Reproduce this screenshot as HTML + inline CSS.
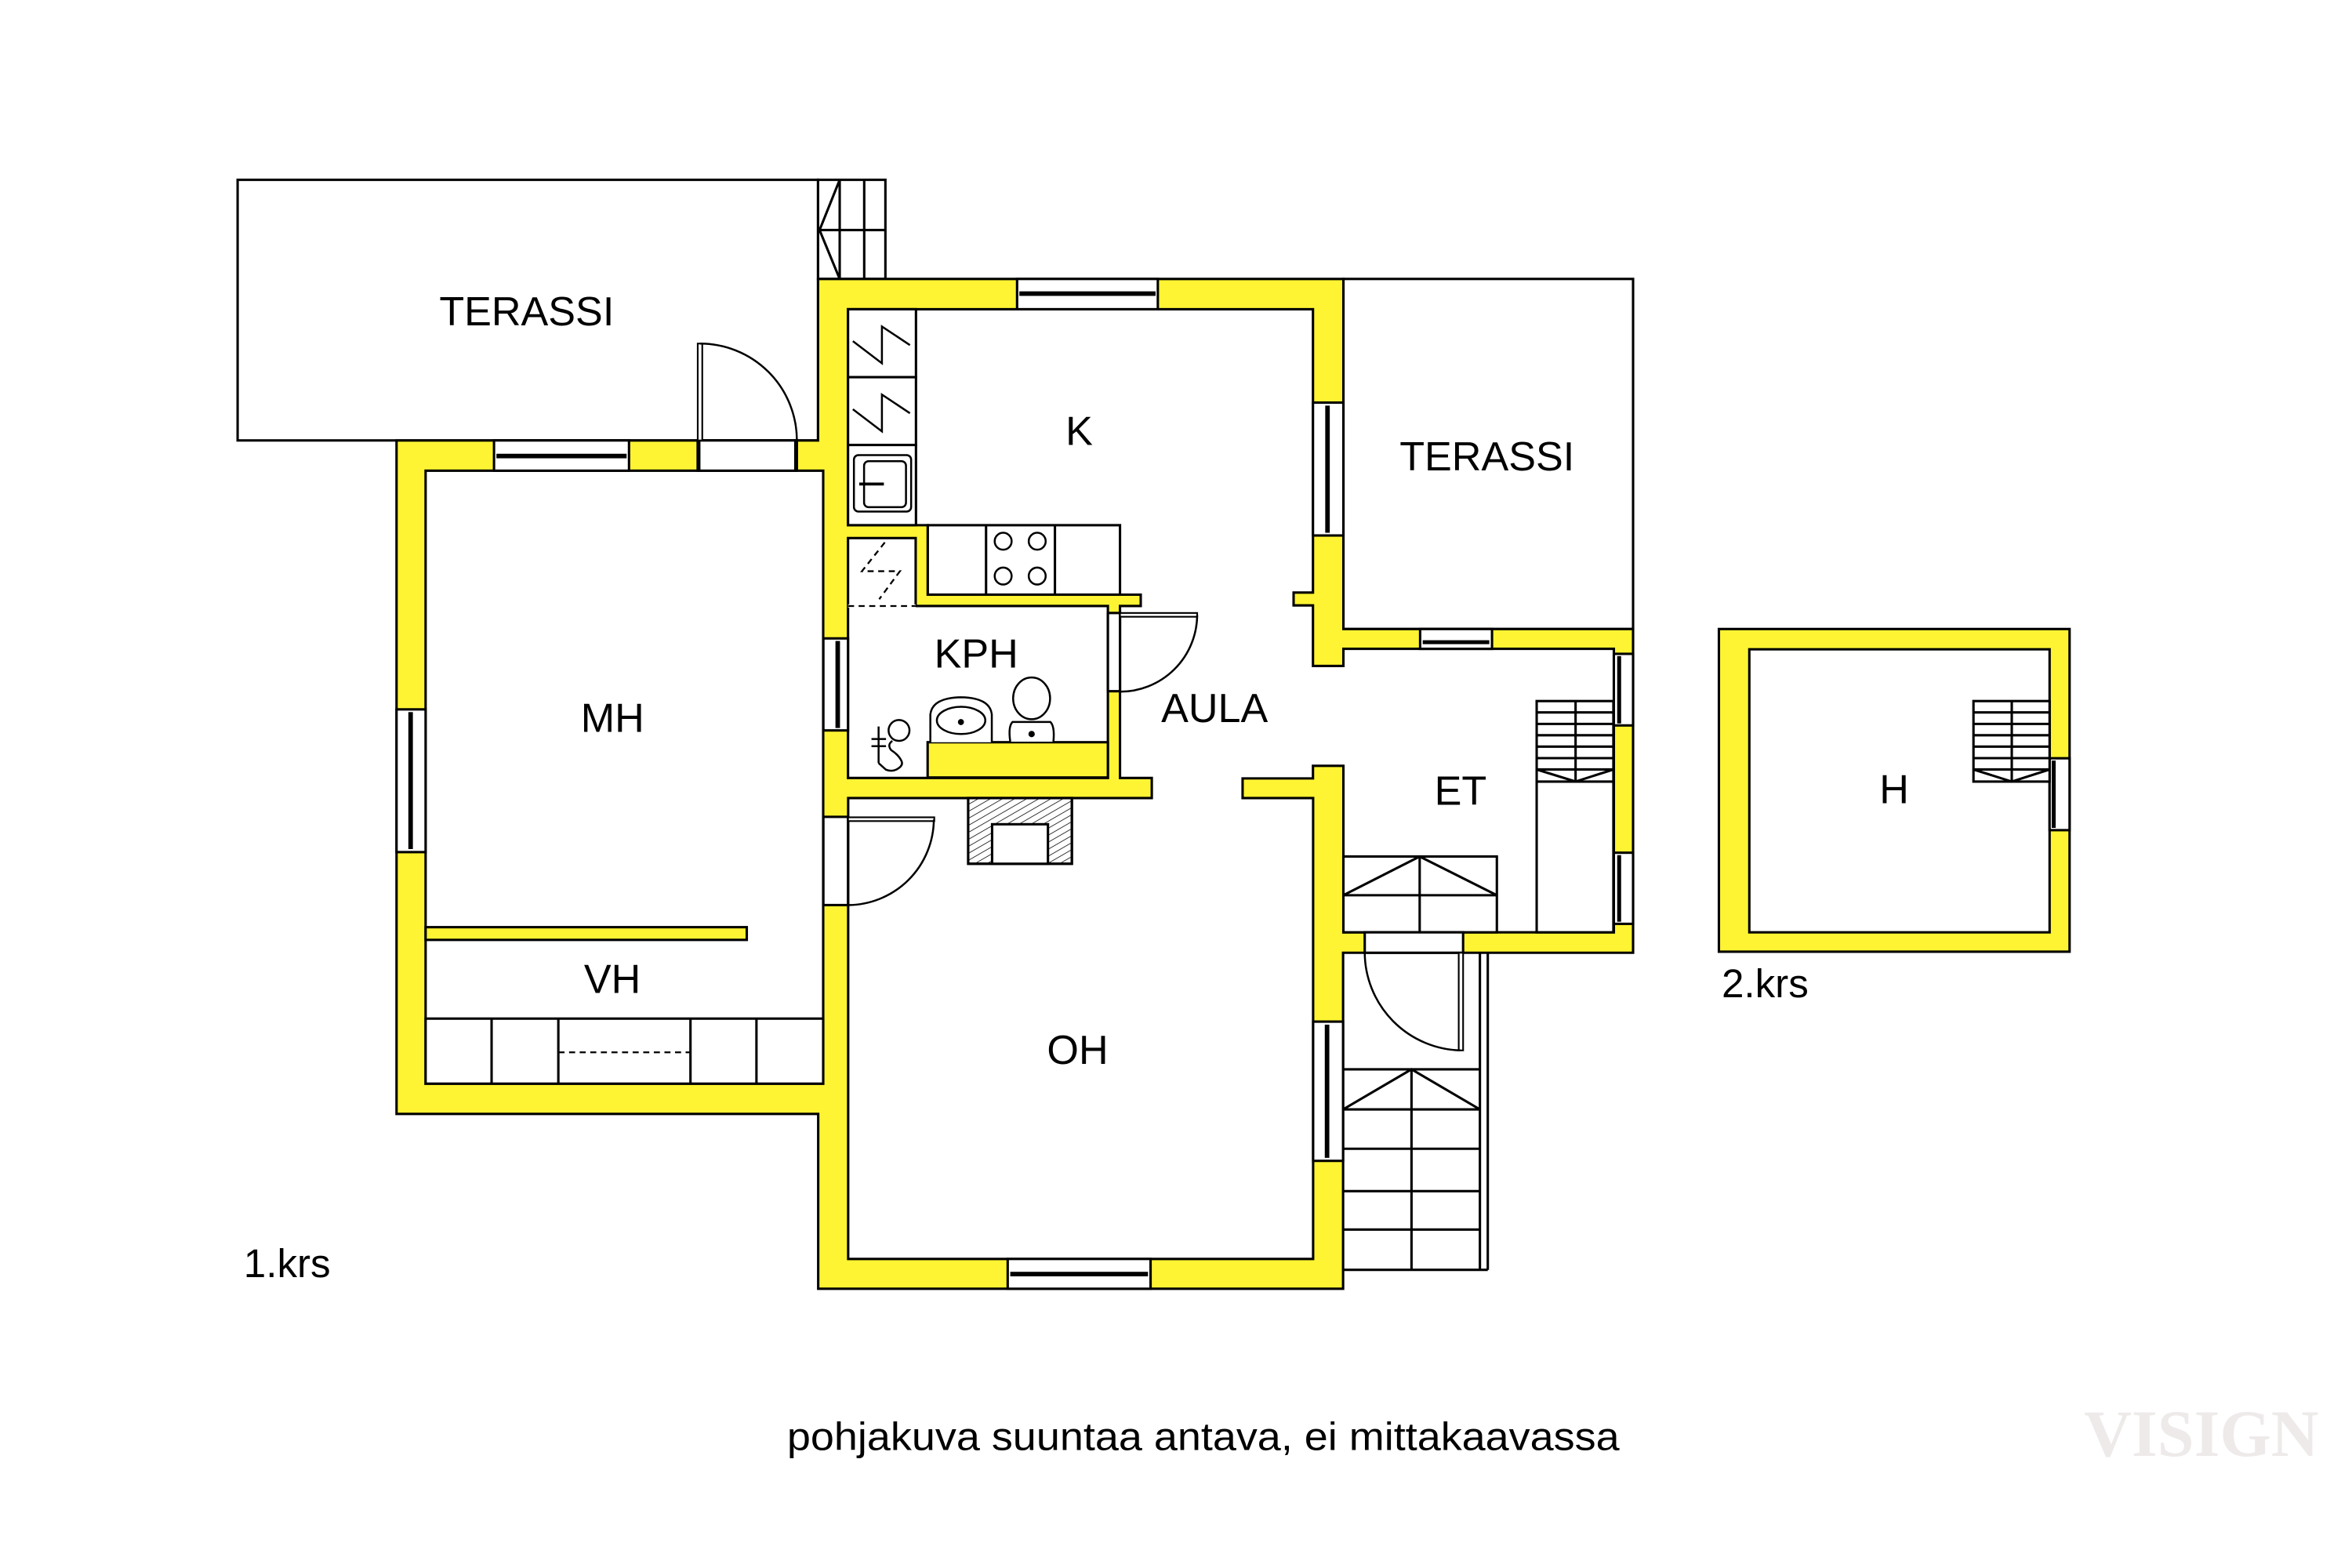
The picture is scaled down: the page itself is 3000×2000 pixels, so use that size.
<!DOCTYPE html>
<html><head><meta charset="utf-8"><style>
html,body{margin:0;padding:0;background:#fff}
svg{display:block}
text{font-family:"Liberation Sans",Arial,sans-serif;fill:#000}
</style></head><body>
<svg width="3000" height="2000" viewBox="0 0 1554 1036" preserveAspectRatio="none" xmlns="http://www.w3.org/2000/svg">
<g stroke="#000" stroke-width="1.6" fill="none" stroke-linejoin="miter">
<!-- left terrace -->
<rect x="157" y="118.8" width="383.5" height="172.2" fill="#fff"/>
<!-- top stair -->
<rect x="540.5" y="118.8" width="44.5" height="65.5" fill="#fff"/>
<line x1="554.8" y1="118.8" x2="554.8" y2="184.3"/>
<line x1="571" y1="118.8" x2="571" y2="184.3"/>
<line x1="540.5" y1="152" x2="585" y2="152"/>
<polyline points="554.8,118.8 541.5,152 554.8,184.3"/>
<!-- right terrace -->
<rect x="887.6" y="184.3" width="191.4" height="231.3" fill="#fff"/>
<!-- building outer -->
<polygon fill="#fff433" points="540.5,184.3 887.6,184.3 887.6,415.6 1079,415.6 1079,629.5 887.4,629.5 887.4,851.5 540.6,851.5 540.6,736 262,736 262,291 540.5,291"/>
<!-- MH+VH -->
<rect x="281.2" y="311" width="262.7" height="405" fill="#fff"/>
<rect x="281.2" y="612.6" width="212.2" height="8.4" fill="#fff433"/>
<rect x="281.2" y="673" width="262.7" height="43" fill="#fff"/>
<line x1="324.8" y1="673" x2="324.8" y2="716"/>
<line x1="368.9" y1="673" x2="368.9" y2="716"/>
<line x1="456.2" y1="673" x2="456.2" y2="716"/>
<line x1="499.8" y1="673" x2="499.8" y2="716"/>
<line x1="369" y1="695.3" x2="456" y2="695.3" stroke-dasharray="4,3" stroke-width="1.2"/>
<!-- K/AULA/OH/ET -->
<polygon fill="#fff" points="560.3,204.3 867.5,204.3 867.5,391.5 854.7,391.5 854.7,400 867.5,400 867.5,440 887.6,440 887.6,428.7 1066.3,428.7 1066.3,616 887.6,616 887.6,506 867.5,506 867.5,514.3 821,514.3 821,527.3 867.6,527.3 867.6,831.8 560.4,831.8 560.4,527.3 761,527.3 761,514 740,514 740,400.4 753.7,400.4 753.7,392.9 613,392.9 613,347 560.3,347"/>
<!-- KPH -->
<polygon fill="#fff" points="560.3,355.5 605,355.5 605,400.4 732,400.4 732,514 560.3,514"/>
<line x1="560.3" y1="400.4" x2="605" y2="400.4" stroke="#fff" stroke-width="2"/>
<line x1="560.3" y1="400.4" x2="605" y2="400.4" stroke-dasharray="4,3" stroke-width="1.2"/>
<polyline points="584.6,358.4 569.5,377.4 594.6,377.4 580.9,395.9" stroke-dasharray="4,3" stroke-width="1.2"/>
<rect x="612.9" y="490.4" width="119.1" height="23.3" fill="#fff433"/>
<!-- kitchen cabinets -->
<rect x="560.3" y="204.3" width="44.9" height="44.9" fill="#fff"/>
<rect x="560.3" y="249.2" width="44.9" height="44.8" fill="#fff"/>
<rect x="560.3" y="294" width="44.9" height="53" fill="#fff"/>
<polyline points="563.5,225.4 582.7,240 582.7,215.7 601.2,228" stroke-width="1.3"/>
<polyline points="563.5,270.4 582.7,285 582.7,260.7 601.2,273" stroke-width="1.3"/>
<rect x="564.2" y="300.7" width="37.8" height="37.3" rx="3" stroke-width="1.3"/>
<rect x="570.9" y="304.7" width="27.7" height="30.4" rx="3" stroke-width="1.3"/>
<line x1="567.7" y1="319.8" x2="584" y2="319.8" stroke-width="2"/>
<rect x="613" y="347" width="127" height="45.9" fill="#fff"/>
<line x1="651.5" y1="347" x2="651.5" y2="392.9"/>
<line x1="697" y1="347" x2="697" y2="392.9"/>
<circle cx="662.8" cy="357.6" r="5.6" stroke-width="1.3"/>
<circle cx="685.3" cy="357.6" r="5.6" stroke-width="1.3"/>
<circle cx="662.8" cy="380.6" r="5.6" stroke-width="1.3"/>
<circle cx="685.3" cy="380.6" r="5.6" stroke-width="1.3"/>
<!-- bathroom fixtures -->
<circle cx="594" cy="482.6" r="6.9" stroke-width="1.3"/>
<line x1="580.5" y1="480" x2="580.5" y2="504.2" stroke-width="1.3"/>
<line x1="575.8" y1="488.3" x2="585.4" y2="488.3" stroke-width="1.3"/>
<line x1="575.8" y1="493" x2="585.4" y2="493" stroke-width="1.3"/>
<path d="M580.5,504.2 L585.3,508.5 Q589,510 592.2,508.5 Q597,506 595.7,503 Q594,499 588.8,495.6 Q586,492 589.6,489.5" stroke-width="1.3"/>
<path d="M614.7,490.4 L614.7,472 Q616,461 635,460.7 Q654,461 655.3,472 L655.3,490.4" fill="#fff" stroke-width="1.3"/>
<ellipse cx="635" cy="476" rx="16" ry="9" stroke-width="1.3"/>
<circle cx="634.9" cy="477.1" r="1.2" fill="#000"/>
<ellipse cx="681.6" cy="461.4" rx="12.2" ry="13.8" fill="#fff" stroke-width="1.3"/>
<path d="M667.5,490 Q666,480 669,477 L694,477 Q697,480 696,490" fill="#fff" stroke-width="1.3"/>
<circle cx="681.6" cy="485" r="1.3" fill="#000"/>
<!-- fireplace -->
<defs><pattern id="h" width="4" height="4" patternUnits="userSpaceOnUse" patternTransform="rotate(60)"><line x1="0" y1="0" x2="0" y2="4" stroke="#000" stroke-width="0.8"/></pattern></defs>
<rect x="639.7" y="527.3" width="68.5" height="43.4" fill="#fff"/>
<rect x="639.7" y="527.3" width="68.5" height="43.4" fill="url(#h)"/>
<rect x="655.5" y="544.6" width="36.9" height="26.1" fill="#fff"/>
<!-- ET stairs -->
<rect x="887.6" y="565.9" width="101.4" height="50.1" fill="#fff"/>
<line x1="887.6" y1="591.5" x2="989" y2="591.5"/>
<line x1="938" y1="565.9" x2="938" y2="616"/>
<polyline points="887.6,591.5 938,565.9 989,591.5"/>
<rect x="1015.3" y="463.2" width="50.7" height="152.8" fill="#fff"/>
<line x1="1015.3" y1="470.7" x2="1066" y2="470.7"/><line x1="1015.3" y1="478.3" x2="1066" y2="478.3"/>
<line x1="1015.3" y1="485.8" x2="1066" y2="485.8"/><line x1="1015.3" y1="493.3" x2="1066" y2="493.3"/>
<line x1="1015.3" y1="500.9" x2="1066" y2="500.9"/><line x1="1015.3" y1="508.4" x2="1066" y2="508.4"/>
<line x1="1015.3" y1="516.4" x2="1066" y2="516.4"/>
<line x1="1041" y1="463.2" x2="1041" y2="516.4"/>
<polyline points="1015.3,508.4 1041,516.4 1066,508.4"/>
<!-- outside stair -->
<line x1="977.8" y1="629.5" x2="977.8" y2="839"/>
<line x1="983" y1="629.5" x2="983" y2="839"/>
<line x1="887.4" y1="839" x2="983" y2="839"/>
<line x1="887.4" y1="706.5" x2="977.8" y2="706.5"/>
<line x1="887.4" y1="733" x2="977.8" y2="733"/>
<line x1="887.4" y1="759" x2="977.8" y2="759"/>
<line x1="887.4" y1="787" x2="977.8" y2="787"/>
<line x1="887.4" y1="812.4" x2="977.8" y2="812.4"/>
<line x1="932.6" y1="706.5" x2="932.6" y2="839"/>
<polyline points="887.4,733 932.6,706.5 977.8,733"/>
<!-- windows -->
<rect x="672" y="184.3" width="93" height="20" fill="#fff"/><rect x="673.5" y="192.5" width="90" height="3" fill="#000" stroke="none"/>
<rect x="326.4" y="291" width="89.2" height="20" fill="#fff"/><rect x="328" y="299.8" width="86" height="3" fill="#000" stroke="none"/>
<rect x="262" y="468.7" width="19.2" height="94.3" fill="#fff"/><rect x="269.8" y="470.5" width="3" height="90.5" fill="#000" stroke="none"/>
<rect x="544" y="421.8" width="16.3" height="60.8" fill="#fff"/><rect x="552" y="423.5" width="3" height="57.5" fill="#000" stroke="none"/>
<rect x="867.5" y="266" width="20.1" height="87.8" fill="#fff"/><rect x="875.6" y="268" width="3" height="84" fill="#000" stroke="none"/>
<rect x="938.3" y="415.6" width="47.5" height="13.1" fill="#fff"/><rect x="940" y="423" width="44" height="2.6" fill="#000" stroke="none"/>
<rect x="1066.3" y="432" width="12.7" height="47.3" fill="#fff"/><rect x="1068.5" y="433.5" width="2.6" height="44.5" fill="#000" stroke="none"/>
<rect x="1066.3" y="563.4" width="12.7" height="47" fill="#fff"/><rect x="1068.5" y="565" width="2.6" height="44" fill="#000" stroke="none"/>
<rect x="867.6" y="675" width="19.8" height="92" fill="#fff"/><rect x="875.3" y="677" width="3" height="88" fill="#000" stroke="none"/>
<rect x="665.8" y="831.8" width="94.4" height="19.7" fill="#fff"/><rect x="667.5" y="840.3" width="91" height="3" fill="#000" stroke="none"/>
<!-- H upstairs -->
<rect x="1135.7" y="415.6" width="231.7" height="213.2" fill="#fff433"/>
<rect x="1155.8" y="429" width="198.4" height="187" fill="#fff"/>
<rect x="1354.2" y="501" width="13.2" height="47.5" fill="#fff"/><rect x="1355.6" y="502.5" width="2.6" height="44.5" fill="#000" stroke="none"/>
<rect x="1303.9" y="463.2" width="50.3" height="53.2" fill="#fff"/>
<line x1="1303.9" y1="470.7" x2="1354.2" y2="470.7"/><line x1="1303.9" y1="478.3" x2="1354.2" y2="478.3"/>
<line x1="1303.9" y1="485.8" x2="1354.2" y2="485.8"/><line x1="1303.9" y1="493.3" x2="1354.2" y2="493.3"/>
<line x1="1303.9" y1="500.9" x2="1354.2" y2="500.9"/><line x1="1303.9" y1="508.4" x2="1354.2" y2="508.4"/>
<line x1="1329.2" y1="463.2" x2="1329.2" y2="516.4"/>
<polyline points="1303.9,508.4 1329.2,516.4 1354.2,508.4"/>
<!-- door openings -->
<rect x="461" y="291" width="65.5" height="20" fill="#fff"/>
<line x1="461.5" y1="291" x2="461.5" y2="311" stroke-width="2.6"/>
<line x1="526" y1="291" x2="526" y2="311" stroke-width="2.6"/>
<rect x="461" y="227" width="3" height="64" fill="#fff" stroke-width="1.1"/>
<path d="M462.5,227 A64,64 0 0 1 526.5,291" stroke-width="1.3"/>
<rect x="732" y="405" width="8" height="51.7" fill="#fff"/>
<rect x="740" y="405" width="51" height="2.5" fill="#fff" stroke-width="1.1"/>
<path d="M791,406.5 A51,51 0 0 1 740,457" stroke-width="1.3"/>
<rect x="544" y="539.7" width="16.3" height="58.3" fill="#fff"/>
<rect x="560.3" y="540" width="57" height="2.5" fill="#fff" stroke-width="1.1"/>
<path d="M617,541.5 A57,57 0 0 1 560.3,598" stroke-width="1.3"/>
<rect x="901.7" y="616" width="65" height="13.5" fill="#fff"/>
<rect x="963.8" y="629.5" width="2.9" height="64.5" fill="#fff" stroke-width="1.1"/>
<path d="M901.7,629.5 A65,65 0 0 0 965,694" stroke-width="1.3"/>
</g>
<g font-size="27" text-anchor="middle">
<text x="348" y="215">TERASSI</text>
<text x="713" y="294">K</text>
<text x="645" y="441">KPH</text>
<text x="802.5" y="477">AULA</text>
<text x="404.7" y="483.5">MH</text>
<text x="404.6" y="656">VH</text>
<text x="712" y="703">OH</text>
<text x="965" y="531.6">ET</text>
<text x="982.5" y="310.7">TERASSI</text>
<text x="1251.5" y="530.7">H</text>
</g>
<text x="161" y="843.8" font-size="26.5">1.krs</text>
<text x="1137.5" y="659" font-size="26.5">2.krs</text>
<text x="520" y="958" font-size="26" textLength="550" lengthAdjust="spacingAndGlyphs">pohjakuva suuntaa antava, ei mittakaavassa</text>
<text x="1377" y="962" font-size="44" textLength="155" lengthAdjust="spacingAndGlyphs" style="font-family:'Liberation Serif',serif;fill:#eeeaea;font-weight:bold">VISIGN</text>
</svg>
</body></html>
